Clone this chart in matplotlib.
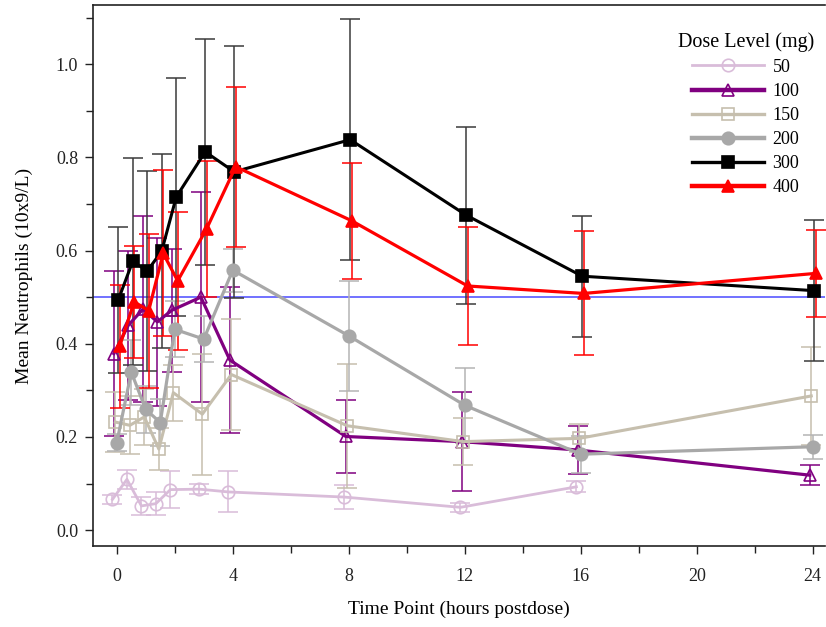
import matplotlib
matplotlib.use("Agg")
import matplotlib.pyplot as plt
from matplotlib.ticker import MultipleLocator, FormatStrFormatter
import numpy as np

plt.rcParams["font.family"] = ["Liberation Serif", "DejaVu Serif"]

# nominal sampling times (hours postdose)
times = [0, 0.5, 1, 1.5, 2, 3, 4, 8, 12, 16, 24]

doses = ["50", "100", "150", "200", "300", "400"]

mean_50 = [0.066, 0.109, 0.052, 0.057, 0.087, 0.088, 0.082, 0.071, 0.049, 0.093]
sd_50 = [0.010, 0.020, 0.020, 0.025, 0.040, 0.011, 0.044, 0.025, 0.010, 0.012]

mean_100 = [0.379, 0.440, 0.474, 0.447, 0.472, 0.500, 0.365, 0.201, 0.190, 0.172, 0.118]
sd_100 = [0.177, 0.160, 0.200, 0.180, 0.132, 0.225, 0.156, 0.078, 0.107, 0.052, 0.022]

mean_150 = [0.232, 0.225, 0.243, 0.174, 0.295, 0.249, 0.334, 0.224, 0.190, 0.197, 0.288]
sd_150 = [0.065, 0.062, 0.060, 0.045, 0.060, 0.130, 0.120, 0.133, 0.050, 0.030, 0.105]

mean_200 = [0.188, 0.339, 0.259, 0.231, 0.431, 0.410, 0.558, 0.417, 0.268, 0.163, 0.179]
sd_200 = [0.018, 0.070, 0.050, 0.050, 0.060, 0.050, 0.046, 0.118, 0.080, 0.040, 0.026]

mean_300 = [0.494, 0.577, 0.556, 0.599, 0.715, 0.812, 0.769, 0.838, 0.676, 0.545, 0.514]
sd_300 = [0.157, 0.222, 0.214, 0.208, 0.255, 0.242, 0.271, 0.258, 0.190, 0.130, 0.151]

mean_400 = [0.395, 0.490, 0.471, 0.594, 0.535, 0.647, 0.780, 0.664, 0.524, 0.508, 0.551]
sd_400 = [0.132, 0.120, 0.165, 0.178, 0.148, 0.146, 0.172, 0.124, 0.126, 0.133, 0.093]

means = [mean_50, mean_100, mean_150, mean_200, mean_300, mean_400]
sds = [sd_50, sd_100, sd_150, sd_200, sd_300, sd_400]

# small horizontal dodge so the error bars do not sit on top of each other
dodge = [-0.15, -0.10, -0.05, 0.0, 0.05, 0.10]

colors = ["#d9bcd9", "#800080", "#c6bfae", "#a8a8a8", "#000000", "#ff0000"]
ecolors = ["#d9bcd9", "#800080", "#c6bfae", "#b4b4b4", "#3a3a3a", "#ff0000"]
markers = ["o", "^", "s", "o", "s", "^"]
filled = [False, False, False, True, True, True]
line_w = [2.0, 2.3, 2.2, 2.3, 2.2, 2.3]
legend_w = [2.0, 3.2, 2.4, 3.2, 2.4, 3.2]

fig = plt.figure(figsize=(8.26, 6.27), dpi=100)
ax = fig.add_axes([93.3 / 826, 1 - 546 / 627, 1 - 93.3 / 826 - 0.001, (546 - 5) / 627])

handles = []
for i, dose in enumerate(doses):
    n = len(means[i])
    x = np.array(times[:n]) + dodge[i]
    face = colors[i] if filled[i] else "none"
    ax.errorbar(x, means[i], yerr=sds[i], fmt="none", ecolor=ecolors[i],
                elinewidth=1.1, capsize=7, capthick=1.1, zorder=2 + i * 0.1)
    ax.plot(x, means[i], color=colors[i], lw=line_w[i], marker=markers[i],
            markersize=9, markerfacecolor=face, markeredgecolor=colors[i],
            markeredgewidth=1.2, zorder=3 + i * 0.1)
    h, = ax.plot([], [], color=colors[i], lw=legend_w[i], marker=markers[i],
                 markersize=9, markerfacecolor=face, markeredgecolor=colors[i],
                 markeredgewidth=1.2)
    handles.append(h)

ax.axhline(0.5, color="#4a4aff", lw=1.1, zorder=1)

ax.set_xlim(-0.81, 24.43)
ax.set_ylim(-0.034, 1.127)
ax.xaxis.set_major_locator(MultipleLocator(4))
ax.xaxis.set_minor_locator(MultipleLocator(2))
ax.yaxis.set_major_locator(MultipleLocator(0.2))
ax.yaxis.set_minor_locator(MultipleLocator(0.1))
ax.yaxis.set_major_formatter(FormatStrFormatter("%.1f"))
ax.tick_params(which="both", direction="out", width=1.0, labelsize=13,
               colors="#222222")
ax.tick_params(which="major", length=6, pad=10)
ax.tick_params(which="minor", length=5)
ax.tick_params(axis="y", which="major", pad=5)
ax.spines["right"].set_visible(False)
for side in ["left", "bottom", "top"]:
    ax.spines[side].set_linewidth(1.2)
    ax.spines[side].set_color("#222222")

ax.set_xlabel("Time Point (hours postdose)", fontsize=14, labelpad=11)
ax.set_ylabel("Mean Neutrophils (10x9/L)", fontsize=14, labelpad=16)

leg = ax.legend(handles, doses, title="Dose Level (mg)", loc="upper right",
                bbox_to_anchor=(823 / 826, 1 - 23 / 627),
                bbox_transform=fig.transFigure, frameon=False,
                fontsize=13, title_fontsize=14.5, handlelength=4.0,
                labelspacing=0.39, handletextpad=0.45, borderpad=0)

fig.savefig("out.png", dpi=100)
